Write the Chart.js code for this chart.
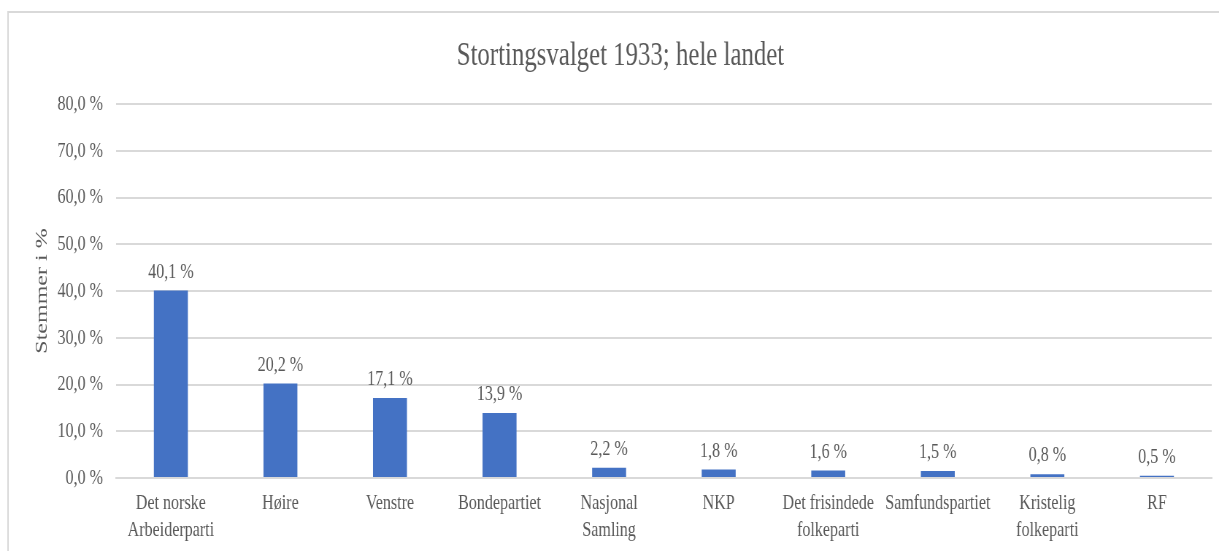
<!DOCTYPE html>
<html>
<head>
<meta charset="utf-8">
<script src="https://cdn.jsdelivr.net/npm/chart.js@4/dist/chart.umd.min.js"></script>
<style>
    html, body { margin: 0; padding: 0; background: #ffffff; overflow: hidden; }
</style>
</head>
<body>
<canvas id="chart" width="1670" height="551" style="display:block;width:1219px;height:551px;"></canvas>
<script>
// --- Datos ---
const partyLabels = [
    ['Det norske', 'Arbeiderparti'],
    'Høire',
    'Venstre',
    'Bondepartiet',
    ['Nasjonal', 'Samling'],
    'NKP',
    ['Det frisindede', 'folkeparti'],
    'Samfundspartiet',
    ['Kristelig', 'folkeparti'],
    'RF'
];
const voteShare = [40.1, 20.2, 17.1, 13.9, 2.2, 1.8, 1.6, 1.5, 0.8, 0.5];
const yTicks = [0, 10, 20, 30, 40, 50, 60, 70, 80];

const TEXT = '#595959';
const GRID = '#d9d9d9';
const FONT = '"Liberation Serif", "Times New Roman", serif';

function pct(v) {
    return v.toFixed(1).replace('.', ',') + ' %';
}

// Borde gris del marco (solo arriba e izquierda, como en la imagen)
const framePlugin = {
    id: 'frame',
    beforeDraw(chart) {
        const ctx = chart.ctx;
        ctx.save();
        ctx.strokeStyle = GRID;
        ctx.lineWidth = 2;
        ctx.beginPath();
        ctx.moveTo(11, chart.height + 2);
        ctx.lineTo(11, 12);
        ctx.lineTo(chart.width + 2, 12);
        ctx.stroke();
        ctx.restore();
    }
};

// Etiquetas de valor encima de cada barra
const valueLabels = {
    id: 'valueLabels',
    afterDatasetsDraw(chart) {
        const ctx = chart.ctx;
        const meta = chart.getDatasetMeta(0);
        ctx.save();
        ctx.fillStyle = TEXT;
        ctx.font = '22px ' + FONT;
        ctx.textAlign = 'center';
        ctx.textBaseline = 'alphabetic';
        meta.data.forEach((bar, i) => {
            ctx.fillText(pct(voteShare[i]), bar.x, bar.y - 13);
        });
        ctx.restore();
    }
};

const ctx = document.getElementById('chart').getContext('2d');
new Chart(ctx, {
    type: 'bar',
    data: {
        labels: partyLabels,
        datasets: [{
            data: voteShare,
            backgroundColor: '#4472C4',
            barPercentage: 0.31,
            categoryPercentage: 1
        }]
    },
    options: {
        responsive: false,
        animation: false,
        layout: {
            padding: { left: 40, right: 10, top: 0, bottom: 0 }
        },
        scales: {
            x: {
                grid: { display: false, drawTicks: false },
                border: { display: true, color: GRID, width: 2 },
                ticks: {
                    color: TEXT,
                    font: { family: FONT, size: 22, lineHeight: 1.25 },
                    padding: 11,
                    maxRotation: 0,
                    autoSkip: false
                },
                afterFit(scale) { scale.height = 73; }
            },
            y: {
                min: 0,
                max: 80,
                afterBuildTicks(scale) {
                    scale.ticks = yTicks.map(v => ({ value: v }));
                },
                grid: { color: GRID, lineWidth: 2, drawTicks: false },
                border: { display: false },
                ticks: {
                    color: TEXT,
                    font: { family: FONT, size: 22 },
                    padding: 18,
                    callback: v => pct(v)
                },
                title: {
                    display: true,
                    text: 'Stemmer i %',
                    color: TEXT,
                    font: { family: FONT, size: 24 },
                    padding: { top: 3, bottom: 0 }
                },
                afterFit(scale) { scale.width = 119; }
            }
        },
        plugins: {
            legend: { display: false },
            tooltip: { enabled: false },
            title: {
                display: true,
                text: 'Stortingsvalget 1933; hele landet',
                color: TEXT,
                font: { family: FONT, size: 34, weight: 'normal', lineHeight: 1.2 },
                padding: { top: 36, bottom: 27.2 }
            }
        }
    },
    plugins: [framePlugin, valueLabels]
});
</script>
</body>
</html>
